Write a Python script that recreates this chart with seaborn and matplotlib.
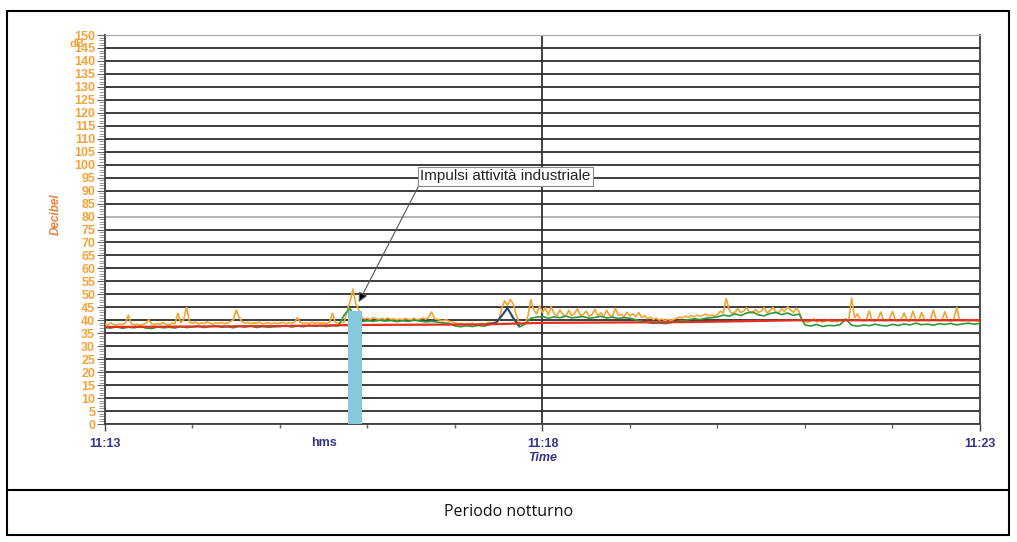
# Sound level over time - night period, with industrial impulse marked
import numpy as np
import pandas as pd
import matplotlib.pyplot as plt
from matplotlib.lines import Line2D
from matplotlib.patches import Rectangle
import seaborn as sns

# seconds after 11:13:00
orange_t = np.arange(0, 601, 2)
orange_db = [
    38.5, 38.2, 39.0, 38.4, 38.1, 38.6, 38.3, 38.9, 42.0, 38.7, 38.2, 38.5, 38.0, 38.4, 38.8,
    40.2, 38.6, 38.3, 38.7, 38.5, 39.1, 38.4, 38.2, 38.9, 38.6, 42.7, 39.0, 40.3, 45.0, 39.2,
    38.8, 39.3, 38.6, 39.0, 38.7, 39.4, 38.9, 38.5, 39.1, 38.8, 39.2, 38.6, 39.0, 39.5, 40.1,
    44.0, 41.2, 39.4, 38.9, 39.2, 38.7, 39.0, 38.8, 39.3, 38.6, 38.9, 39.1, 38.7, 39.0, 38.8,
    38.9, 39.2, 38.7, 39.0, 38.8, 39.3, 41.0, 39.1, 38.8, 39.0, 38.7, 39.2, 38.9, 39.1, 38.8,
    39.0, 38.8, 39.2, 42.7, 39.1, 38.9, 39.0, 39.3, 43.5, 47.0, 52.0, 46.5, 44.0, 41.2, 40.5,
    40.8, 40.3, 41.0, 40.6, 40.2, 40.7, 40.4, 40.9, 40.3, 40.6, 40.1, 40.5, 40.2, 40.7, 40.4,
    40.3, 40.8, 40.2, 40.5, 40.9, 40.4, 41.2, 43.2, 40.6, 40.3, 40.0, 39.8, 40.2, 39.6, 39.4,
    39.0, 38.6, 38.9, 38.4, 38.7, 38.5, 38.9, 38.3, 38.6, 38.8, 38.5, 38.9, 39.2, 39.0, 39.4,
    39.6, 44.5, 47.5, 45.8, 48.0, 46.2, 42.0, 39.0, 38.2, 38.6, 41.5, 48.0, 44.0, 42.5, 45.5,
    43.0, 44.8, 42.0, 45.2, 42.5, 41.8, 44.0, 42.2, 41.5, 43.8, 41.9, 42.6, 44.5, 41.8, 42.3,
    43.5, 41.6, 42.2, 44.2, 41.8, 42.9, 41.5, 43.8, 42.0, 41.4, 44.6, 41.9, 42.4, 41.2, 43.1,
    41.7, 42.5, 41.3, 43.0, 41.0, 41.8, 40.6, 41.2, 40.3, 40.8, 40.1, 40.5, 39.9, 40.4, 40.0,
    40.3, 40.8, 41.2, 40.9, 41.6, 41.1, 41.8, 41.3, 42.0, 41.5, 41.9, 42.4, 41.7, 42.1, 41.6,
    42.3, 43.5, 42.8, 48.5, 44.0, 42.6, 43.2, 44.5, 42.9, 43.6, 44.8, 43.1, 42.7, 44.2, 43.0,
    43.5, 44.9, 42.8, 43.7, 45.0, 43.2, 42.9, 44.4, 43.3, 45.2, 44.1, 43.0, 44.6, 43.4, 39.8,
    39.5, 39.2, 39.8, 40.6, 39.4, 39.9, 39.3, 39.7, 40.2, 39.5, 39.8, 39.4, 40.0, 39.6, 40.3,
    40.1, 48.5, 41.0, 42.5, 40.2, 39.8, 40.3, 43.6, 40.0, 39.7, 40.4, 43.2, 39.9, 40.1, 40.5,
    43.4, 40.2, 39.8, 40.5, 42.8, 40.0, 39.7, 43.5, 40.1, 39.8, 43.0, 40.3, 39.9, 40.2, 43.9,
    40.4, 39.9, 40.2, 43.3, 40.0, 39.7, 40.3, 45.0, 40.1, 39.8, 40.2, 39.9, 40.3, 40.0, 39.8,
    40.0,
]

green_t = np.arange(0, 601, 4)
green_db = [
    37.2, 37.0, 37.5, 36.9, 37.3, 37.1, 37.6, 37.0, 36.8, 37.4, 37.1, 37.3, 37.0, 37.6, 37.2,
    37.4, 37.8, 37.2, 37.6, 37.9, 37.3, 37.5, 37.1, 37.7, 37.4, 37.8, 37.2, 37.6, 37.3, 37.5,
    37.6, 37.9, 37.4, 37.8, 37.5, 38.0, 37.7, 37.9, 37.6, 38.0, 37.8, 42.0, 44.5, 41.0, 39.5,
    39.8, 39.6, 40.0, 39.7, 39.9, 39.5, 39.8, 39.6, 40.0, 39.7, 39.4, 39.6, 39.3, 39.0, 38.8,
    37.8, 37.5, 37.9, 37.6, 38.0, 37.7, 38.4, 38.9, 41.5, 44.5, 40.5, 37.4, 38.5, 40.8, 41.2,
    41.5, 40.8, 41.3, 41.0, 41.6, 40.9, 41.2, 41.4, 40.8, 41.1, 41.5, 40.9, 41.2, 40.7, 41.0,
    40.8, 40.2, 39.6, 39.2, 38.8, 39.0, 38.7, 39.1, 39.5, 39.9, 40.2, 40.6, 40.3, 40.8, 41.0,
    41.3, 42.0, 41.6, 42.5, 41.8, 42.8, 43.2, 42.1, 41.7, 42.6, 43.0, 42.2, 42.8, 41.9, 42.4,
    38.2, 37.8, 38.4, 37.6, 38.0, 37.9, 38.3, 40.5, 38.1, 37.7, 38.2, 37.9, 38.5, 38.0, 37.8,
    38.4, 38.0, 38.6, 38.2, 38.9, 38.3, 38.5, 38.1, 38.7, 38.4, 38.8, 38.2, 38.6, 38.9, 38.5,
    38.8,
]

blue_t = [262, 268, 272, 276, 280, 284]
blue_db = [38.6, 39.0, 41.8, 44.8, 41.0, 38.0]

red_t = [0, 125, 176, 260, 300, 400, 477, 600]
red_db = [37.4, 37.8, 38.2, 38.4, 39.0, 39.3, 40.0, 40.0]

# industrial impulse marker
bar_start = [166.5]
bar_top = [43.7]
bar_width = 10

y_ticks = list(range(0, 151, 5))
x_ticks = [0, 300, 600]
x_labels = ['11:13', '11:18', '11:23']

sns.set_style("white")
plt.rcParams['font.family'] = ['Liberation Sans', 'DejaVu Sans']

fig = plt.figure(figsize=(10.17, 5.42), dpi=100)
ax = fig.add_axes([0.1032, 0.2177, 0.8604, 0.7177])

sns.lineplot(x=orange_t, y=orange_db, ax=ax, color='#f2a535', lw=1.2, zorder=3)
sns.lineplot(x=green_t, y=green_db, ax=ax, color='#2f9a3c', lw=1.2, zorder=4)
sns.lineplot(x=blue_t, y=blue_db, ax=ax, color='#2e3a86', lw=1.2, zorder=4)
sns.lineplot(x=red_t, y=red_db, ax=ax, color='#e2301e', lw=1.6, zorder=5)
ax.bar(bar_start, bar_top, width=bar_width, align='edge', color='#86c9dc', lw=0, zorder=6)

ax.set_xlim(0, 600)
ax.set_ylim(0, 150)

ax.set_yticks(y_ticks)
ax.set_yticks(range(0, 151), minor=True)
ax.set_yticklabels([str(v) for v in y_ticks], color='#f4a23a', fontsize=9, fontweight='bold')
ax.yaxis.grid(True, color='#3c3c3c', lw=1.4)
ax.get_ygridlines()[16].set_color('#b4b4b4')
ax.get_ygridlines()[-1].set_color('#a8a8a8')
ax.tick_params(axis='y', which='major', left=True, length=6, width=0.8, color='#666666', pad=1)
ax.tick_params(axis='y', which='minor', left=True, length=4, width=0.6, color='#888888')

ax.set_xticks(x_ticks)
ax.set_xticks(range(0, 601, 60), minor=True)
ax.set_xticklabels(x_labels, color='#34348c', fontsize=9, fontweight='bold')
ax.tick_params(axis='x', which='major', bottom=True, length=5, width=1.0, color='#444444', pad=5)
ax.tick_params(axis='x', which='minor', bottom=True, length=3, width=1.0, color='#666666')
ax.axvline(300, color='#303030', lw=1.3, zorder=2)

for side in ['left', 'bottom', 'right']:
    ax.spines[side].set_color('#404040')
    ax.spines[side].set_linewidth(1.3)
ax.spines['top'].set_color('#a8a8a8')

ax.set_ylabel('Decibel', color='#e8803c', fontsize=8.5, fontstyle='italic', fontweight='bold')
ax.yaxis.set_label_coords(-0.049, 0.54)
ax.text(300, -0.088, 'Time', transform=ax.get_xaxis_transform(), ha='center', va='center',
        color='#34348c', fontsize=9, fontstyle='italic', fontweight='bold')
ax.text(150, -0.05, 'hms', transform=ax.get_xaxis_transform(), ha='center', va='center',
        color='#34348c', fontsize=9, fontweight='bold')
ax.text(-19, 146.5, 'dB', ha='center', va='center', color='#f0a040', fontsize=8,
        fontweight='bold', clip_on=False)

ax.annotate('Impulsi attività industriale', xy=(174, 47), xytext=(216, 95.5),
            ha='left', va='center', fontsize=11, color='#222222', zorder=8,
            bbox=dict(boxstyle='square,pad=0.15', fc='white', ec='#888888', lw=0.8),
            arrowprops=dict(arrowstyle='-|>', color='#555555', lw=0.8, relpos=(0, 0),
                            mutation_scale=14, fc='black', shrinkA=0, shrinkB=0))

# outer table frame and caption row
fig.add_artist(Rectangle((7 / 1017, 1 - 535 / 542), 1002 / 1017, 524 / 542,
                         transform=fig.transFigure, fill=False, ec='black', lw=1.5))
fig.add_artist(Line2D([7 / 1017, 1009 / 1017], [1 - 490 / 542] * 2,
                      transform=fig.transFigure, color='black', lw=1.5))
fig.text(0.5, 1 - 512 / 542, 'Periodo notturno', ha='center', va='center',
         fontsize=11.5, family=['Open Sans', 'DejaVu Sans'], color='#111111')

fig.savefig('out.png', dpi=100)
